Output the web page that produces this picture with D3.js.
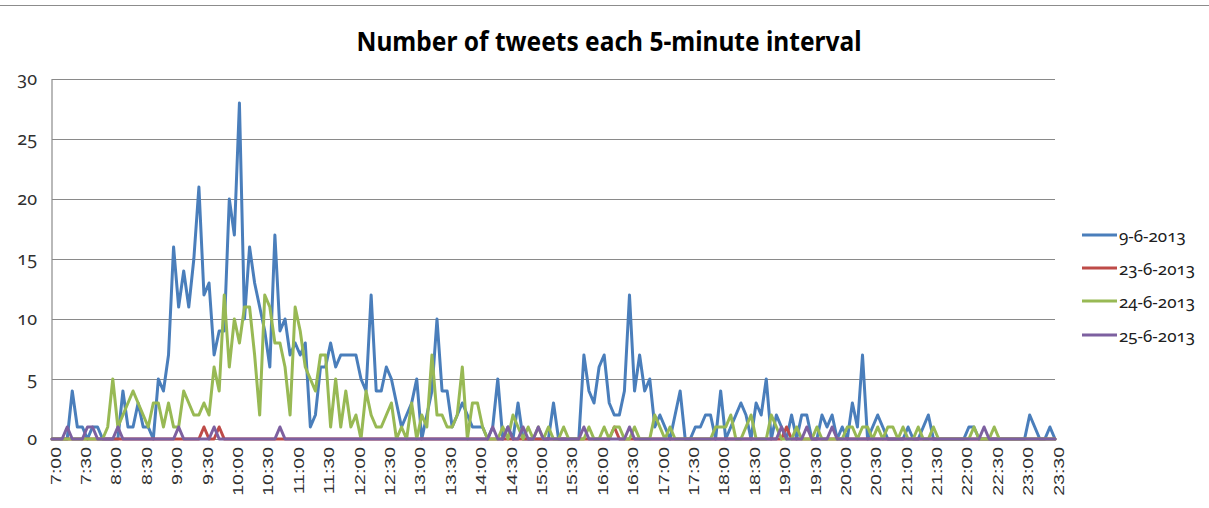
<!DOCTYPE html>
<html>
<head>
<meta charset="utf-8">
<script src="https://cdn.jsdelivr.net/npm/d3@7"></script>
<style>
  html, body { margin: 0; padding: 0; background: #fff; }
  svg { display: block; }
</style>
</head>
<body>
<svg id="chart" width="1209" height="508"></svg>
<script>
// Tweets per 5-minute interval, 7:00 - 23:30, one series per day
const seriesNames = ["9-6-2013", "23-6-2013", "24-6-2013", "25-6-2013"];
const seriesColors = ["#4A7EBB", "#BE4B48", "#98B954", "#7D60A0"];

const tickLabels = ["7:00","7:30","8:00","8:30","9:00","9:30","10:00","10:30","11:00","11:30",
  "12:00","12:30","13:00","13:30","14:00","14:30","15:00","15:30","16:00","16:30","17:00",
  "17:30","18:00","18:30","19:00","19:30","20:00","20:30","21:00","21:30","22:00","22:30",
  "23:00","23:30"];

const yTicks = [0, 5, 10, 15, 20, 25, 30];

// six values per half hour
const day0906 = [
  0,0,0,0,4,1,  1,0,1,1,0,0,  0,0,4,1,1,3,  1,1,0,5,4,7,
  16,11,14,11,15,21,  12,13,7,9,9,20,  17,28,10,16,13,11,  9,6,17,9,10,7,
  8,7,8,1,2,6,  6,8,6,7,7,7,  7,5,4,12,4,4,  6,5,3,1,2,3,
  5,0,2,4,10,4,  4,1,2,3,2,1,  1,1,0,1,5,0,  1,0,3,0,0,0,
  0,0,0,3,0,0,  0,0,0,7,4,3,  6,7,3,2,2,4,  12,4,7,4,5,1,
  2,1,0,2,4,0,  0,1,1,2,2,0,  4,0,1,2,3,2,  0,3,2,5,0,2,
  1,0,2,0,2,2,  0,0,2,1,2,0,  1,0,3,1,7,0,  1,2,1,0,0,0,
  0,1,0,0,1,2,  0,0,0,0,0,0,  0,1,1,0,0,0,  0,0,0,0,0,0,
  0,2,1,0,0,1,  0
];

const day2306 = [
  0,0,0,0,0,0,  0,0,0,0,0,0,  0,0,0,0,0,0,  0,0,0,0,0,0,
  0,0,0,0,0,0,  1,0,0,1,0,0,  0,0,0,0,0,0,  0,0,0,0,0,0,
  0,0,0,0,0,0,  0,0,0,0,0,0,  0,0,0,0,0,0,  0,0,0,0,0,0,
  0,0,0,0,0,0,  0,0,0,0,0,0,  0,0,0,0,0,0,  0,0,0,0,0,0,
  0,0,0,0,0,0,  0,0,0,0,0,0,  0,0,0,1,0,0,  0,0,0,0,0,0,
  0,0,0,0,0,0,  0,0,0,0,0,0,  0,0,0,0,0,0,  0,0,0,0,0,0,
  0,1,0,0,0,0,  0,0,0,0,0,0,  0,0,0,0,0,0,  0,0,0,0,0,0,
  0,0,0,0,0,0,  0,0,0,0,0,0,  0,0,0,0,0,0,  0,0,0,0,0,0,
  0,0,0,0,0,0,  0
];

const day2406 = [
  0,0,0,0,0,0,  0,0,0,0,0,1,  5,1,2,3,4,3,  2,1,3,3,1,3,
  1,1,4,3,2,2,  3,2,6,4,12,6,  10,8,11,11,7,2,  12,11,8,8,6,2,
  11,9,6,5,4,7,  7,1,5,1,4,1,  2,0,4,2,1,1,  2,3,0,1,0,3,
  0,2,1,7,2,2,  1,1,2,6,0,3,  3,1,0,0,0,1,  0,2,1,0,1,0,
  1,0,1,0,0,1,  0,0,0,0,1,0,  0,1,0,1,1,0,  0,1,0,0,0,2,
  1,0,1,0,0,0,  0,0,0,0,0,1,  1,1,2,0,0,1,  2,0,0,0,2,1,
  0,0,0,1,0,0,  0,1,0,0,0,0,  0,1,1,0,1,1,  0,1,0,1,1,0,
  1,0,0,1,0,0,  1,0,0,0,0,0,  0,0,1,0,0,0,  1,0,0,0,0,0,
  0,0,0,0,0,0,  0
];

const day2506 = [
  0,0,0,1,0,0,  0,1,1,0,0,0,  0,1,0,0,0,0,  0,0,0,0,0,0,
  0,1,0,0,0,0,  0,0,1,0,0,0,  0,0,0,0,0,0,  0,0,0,1,0,0,
  0,0,0,0,0,0,  0,0,0,0,0,0,  0,0,0,0,0,0,  0,0,0,0,0,0,
  0,0,0,0,0,0,  0,0,0,0,0,0,  0,0,0,1,0,0,  1,0,0,1,0,0,
  1,0,0,0,0,0,  0,0,0,1,0,0,  0,0,0,0,0,0,  1,0,0,0,0,0,
  0,0,0,0,0,0,  0,0,0,0,0,0,  0,0,0,0,0,0,  0,0,0,0,0,0,
  1,0,0,0,0,1,  0,0,0,0,1,0,  0,0,0,0,0,0,  0,0,0,0,0,0,
  0,0,0,0,0,0,  0,0,0,0,0,0,  0,0,0,0,1,0,  0,0,0,0,0,0,
  0,0,0,0,0,0,  0
];

const seriesValues = [day0906, day2306, day2406, day2506];

// 5-minute category labels from 7:00 to 23:30
const categories = [];
for (let m = 7 * 60; m <= 23 * 60 + 30; m += 5) {
  categories.push(Math.floor(m / 60) + ":" + String(m % 60).padStart(2, "0"));
}

const W = 1209, H = 508;
const plot = { left: 52, right: 1055, top: 79, bottom: 439 };

const svg = d3.select("#chart");
svg.append("rect").attr("width", W).attr("height", H).attr("fill", "#fff");

// outer frame line
svg.append("line")
  .attr("x1", 0).attr("x2", W).attr("y1", 5.5).attr("y2", 5.5)
  .attr("stroke", "#8c8c8c").attr("stroke-width", 1.2);

const x = d3.scalePoint().domain(categories).range([plot.left, plot.right]);
const y = d3.scaleLinear().domain([0, 30]).range([plot.bottom, plot.top]);

// title
svg.append("text")
  .attr("x", 609).attr("y", 51)
  .attr("text-anchor", "middle")
  .attr("font-family", "'Noto Sans', sans-serif")
  .attr("font-weight", "bold")
  .attr("font-size", 26)
  .attr("textLength", 505)
  .attr("lengthAdjust", "spacingAndGlyphs")
  .attr("fill", "#000")
  .text("Number of tweets each 5-minute interval");

// horizontal gridlines and value labels
const yAxis = svg.append("g")
  .attr("transform", `translate(${plot.left},0)`)
  .call(d3.axisLeft(y).tickValues(yTicks).tickSize(-(plot.right - plot.left)).tickPadding(15));
yAxis.select(".domain").remove();
yAxis.selectAll(".tick line").attr("stroke", "#8a8a8a").attr("stroke-width", 1.2);
yAxis.selectAll(".tick text")
  .attr("font-family", "'Noto Sans', sans-serif")
  .style("font-variant-numeric", "oldstyle-nums")
  .attr("font-size", 18)
  .attr("fill", "#303030");

// vertical value axis line
svg.append("line")
  .attr("x1", plot.left).attr("x2", plot.left)
  .attr("y1", plot.top).attr("y2", plot.bottom)
  .attr("stroke", "#8a8a8a").attr("stroke-width", 1.2);

// category axis with rotated time labels every half hour
const labelCats = categories.filter(c => tickLabels.includes(c));
const xAxis = svg.append("g")
  .attr("transform", `translate(0,${plot.bottom})`)
  .call(d3.axisBottom(x).tickValues(labelCats).tickSize(0));
xAxis.select(".domain").attr("stroke", "#8a8a8a").attr("stroke-width", 1.2);
xAxis.selectAll(".tick text")
  .attr("font-family", "'Liberation Sans', Arial, sans-serif")
  .attr("font-size", 15)
  .attr("fill", "#303030")
  .attr("text-anchor", "end")
  .attr("dy", null)
  .attr("dominant-baseline", "central")
  .attr("y", 0)
  .attr("transform", "translate(3,8) rotate(-90) scale(1.3,1)");

// series lines, later days drawn on top
const line = d3.line()
  .x((d, i) => x(categories[i]))
  .y(d => y(d))
  .curve(d3.curveLinear);

seriesValues.forEach((vals, k) => {
  svg.append("path")
    .datum(vals)
    .attr("fill", "none")
    .attr("stroke", seriesColors[k])
    .attr("stroke-width", 3)
    .attr("stroke-linejoin", "round")
    .attr("stroke-linecap", "round")
    .attr("d", line);
});

// legend
const legend = svg.append("g");
const legendY = [235, 268, 301, 335];
seriesNames.forEach((name, k) => {
  legend.append("line")
    .attr("x1", 1082).attr("x2", 1117)
    .attr("y1", legendY[k]).attr("y2", legendY[k])
    .attr("stroke", seriesColors[k]).attr("stroke-width", 3);
  legend.append("text")
    .attr("x", 1119).attr("y", legendY[k])
    .attr("dominant-baseline", "central")
    .attr("font-family", "'Noto Sans', sans-serif")
    .style("font-variant-numeric", "oldstyle-nums")
    .attr("font-size", 17)
    .attr("fill", "#202020")
    .text(name);
});
</script>
</body>
</html>
